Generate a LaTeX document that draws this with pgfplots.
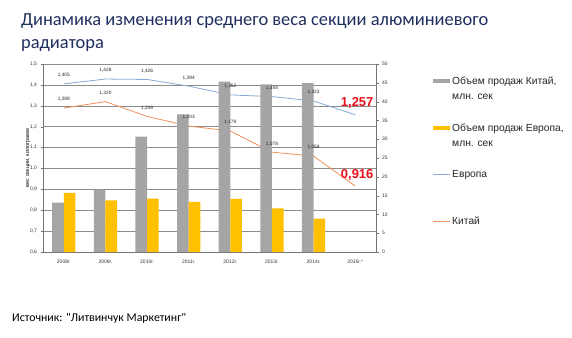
\documentclass[border=0pt]{standalone}
\usepackage{pgfplots}
\pgfplotsset{compat=1.18}
\usepackage{fontspec}
\setmainfont{Liberation Sans}
\newfontfamily\calibri{Carlito}
\definecolor{barg}{HTML}{A5A5A5}
\definecolor{bary}{HTML}{FFC000}
\definecolor{lblue}{HTML}{86ABD9}
\definecolor{lorange}{HTML}{F0905A}
\definecolor{titlec}{HTML}{1F2F5E}
\definecolor{redl}{HTML}{E8101A}
\begin{document}
\begin{tikzpicture}[x=1bp,y=1bp]
\path[use as bounding box, fill=white] (0,0) rectangle (572,337);
\pgfplotsset{
  base/.style={at={(43bp,85bp)}, anchor=south west, scale only axis,
    width=333bp, height=188bp, xmin=-0.5, xmax=7.5,
    /pgf/number format/assume math mode=true,
    tick label style={font=\fontsize{5}{6}\selectfont, text=black!80},
  },
}
% line axis (left), with grid
\begin{axis}[base, ymin=0.6, ymax=1.5,
  ytick={0.6,0.7,0.8,0.9,1.0,1.1,1.2,1.3,1.4,1.5},
  yticklabel style={/pgf/number format/fixed, /pgf/number format/fixed zerofill, /pgf/number format/precision=1, /pgf/number format/use comma},
  axis y line*=left, axis x line*=bottom,
  ymajorgrids, grid style={black!45, line width=0.4pt},
  axis line style={black!55, line width=0.4pt},
  tick align=outside, major tick length=2.5bp,
  ytick style={black!55},
  xtick={0,1,2,3,4,5,6,7}, xtick style={draw=none},
  xticklabels={2008г.,2009г.,2010г.,2011г.,2012г.,2013г.,2014г.,2015г.*},
  xticklabel style={yshift=-2bp},
  ylabel={вес секции, килограмм},
  ylabel style={font=\fontsize{5.5}{6}\selectfont, yshift=-7bp},
]
\addplot[lblue, line width=0.8pt] coordinates {(0,1.405) (1,1.428) (2,1.426) (3,1.394) (4,1.352) (5,1.344) (6,1.323) (7,1.257)};
\addplot[lorange, line width=0.8pt] coordinates {(0,1.289) (1,1.320) (2,1.249) (3,1.203) (4,1.179) (5,1.078) (6,1.059) (7,0.916)};
\end{axis}
% bars axis (right)
\begin{axis}[base, ymin=0, ymax=50, ytick={0,5,...,50},
  axis y line*=right, axis x line=none,
  axis line style={black!55, line width=0.4pt},
  tick align=outside, major tick length=2.5bp, ytick style={black!55},
  ybar, bar width=0.28,
]
\addplot[fill=barg, draw=none, bar shift=-0.14] coordinates {(0,13.1) (1,16.6) (2,30.7) (3,36.6) (4,45.3) (5,44.6) (6,44.9)};
\addplot[fill=bary, draw=none, bar shift=0.14] coordinates {(0,15.7) (1,13.7) (2,14.2) (3,13.3) (4,14.1) (5,11.6) (6,8.9)};
\end{axis}
% data labels
\begin{axis}[base, ymin=0.6, ymax=1.5, hide axis,
  nodes near coords, point meta=y,
  /pgf/number format/fixed, /pgf/number format/fixed zerofill,
  /pgf/number format/precision=3, /pgf/number format/use comma,
]
\addplot[draw=none, nodes near coords style={font=\fontsize{4.8}{5}\selectfont, anchor=center, yshift=8.5bp, text=black!85}] coordinates {(0,1.405) (1,1.428) (2,1.426) (3,1.394) (4,1.352) (5,1.344) (6,1.323)};
\addplot[draw=none, nodes near coords style={font=\fontsize{4.8}{5}\selectfont, anchor=center, yshift=8.5bp, text=black!85}] coordinates {(0,1.289) (1,1.320) (2,1.249) (3,1.203) (4,1.179) (5,1.078) (6,1.059)};
\addplot[draw=none, nodes near coords style={font=\bfseries\fontsize{13}{14}\selectfont, anchor=center, yshift=11.5bp, xshift=2bp, text=redl}] coordinates {(7,1.257) (7,0.916)};
\end{axis}
% legend
\fill[barg] (433,254.5) rectangle (450,258);
\node[anchor=base west, inner sep=0, font=\fontsize{10.3}{11}\selectfont, text=black!85] at (452,252.5) {Объем продаж Китай,};
\node[anchor=base west, inner sep=0, font=\fontsize{10.3}{11}\selectfont, text=black!85] at (452,237.5) {млн. сек};
\fill[bary] (433,207.5) rectangle (450,211);
\node[anchor=base west, inner sep=0, font=\fontsize{10.3}{11}\selectfont, text=black!85] at (452,205.5) {Объем продаж Европа,};
\node[anchor=base west, inner sep=0, font=\fontsize{10.3}{11}\selectfont, text=black!85] at (452,190.5) {млн. сек};
\draw[lblue, line width=0.8pt] (433,163) -- (450,163);
\node[anchor=base west, inner sep=0, font=\fontsize{10.3}{11}\selectfont, text=black!85] at (452,159.5) {Европа};
\draw[lorange, line width=0.8pt] (433,116) -- (450,116);
\node[anchor=base west, inner sep=0, font=\fontsize{10.3}{11}\selectfont, text=black!85] at (452,112.5) {Китай};
% title and source
\node[anchor=base west, inner sep=0, font=\calibri\fontsize{18.5}{22}\selectfont, text=titlec] at (21,312) {Динамика изменения среднего веса секции алюминиевого};
\node[anchor=base west, inner sep=0, font=\calibri\fontsize{18.5}{22}\selectfont, text=titlec] at (21,289) {радиатора};
\node[anchor=base west, inner sep=0, font=\calibri\fontsize{11.9}{13}\selectfont, text=black] at (12,16) {Источник: "Литвинчук Маркетинг"};
\end{tikzpicture}
\end{document}
